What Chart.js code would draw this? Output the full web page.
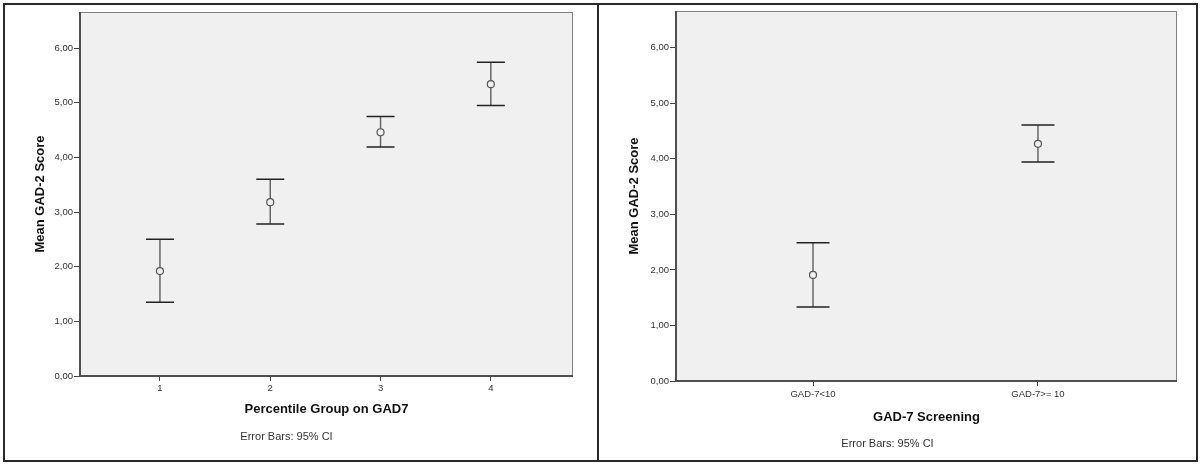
<!DOCTYPE html>
<html lang="en">
<head>
    <meta charset="UTF-8">
    <title>Mean GAD-2 Score, error bars</title>
    <script src="https://cdn.jsdelivr.net/npm/chart.js"></script>
    <style>
        html, body { margin: 0; padding: 0; background: #fff; }
        #page { position: relative; width: 1200px; height: 464px; overflow: hidden; }
        #frame { position: absolute; left: 3px; top: 3px; width: 1195px; height: 459px;
                 border: 2px solid #2a2a2a; box-sizing: border-box; }
        #divider { position: absolute; left: 597px; top: 3px; width: 2px; height: 459px; background: #2a2a2a; }
        canvas { position: absolute; top: 0; }
        #leftChart { left: 0; }
        #rightChart { left: 598px; }
    </style>
</head>
<body>
<div id="page">
    <canvas id="leftChart" width="598" height="464"></canvas>
    <canvas id="rightChart" width="602" height="464"></canvas>
    <div id="frame"></div>
    <div id="divider"></div>
</div>

<script>
    // left panel: percentile groups
    const leftGroups = [1, 2, 3, 4];
    const leftLabels = ['1', '2', '3', '4'];
    const leftMeans = [1.92, 3.18, 4.46, 5.34];
    const leftLower = [1.35, 2.78, 4.19, 4.95];
    const leftUpper = [2.50, 3.60, 4.75, 5.74];

    // right panel: screening cut-off
    const rightGroups = [1, 2];
    const rightLabels = ['GAD-7<10', 'GAD-7>= 10'];
    const rightMeans = [1.91, 4.27];
    const rightLower = [1.33, 3.94];
    const rightUpper = [2.49, 4.61];

    const yTicks = [0, 1, 2, 3, 4, 5, 6];

    const FONT = '"Liberation Sans", Arial, sans-serif';

    // plot background + frame
    const plotFrame = {
        id: 'plotFrame',
        beforeDraw(chart) {
            const {ctx, chartArea: a} = chart;
            ctx.save();
            ctx.fillStyle = '#f0f0f0';
            ctx.fillRect(a.left, a.top, a.right - a.left, a.bottom - a.top);
            ctx.restore();
        },
        afterDraw(chart) {
            const {ctx, chartArea: a} = chart;
            ctx.save();
            ctx.strokeStyle = '#808080';
            ctx.lineWidth = 1;
            ctx.strokeRect(a.left + 0.5, a.top + 0.5, a.right - a.left - 1, a.bottom - a.top - 1);
            ctx.strokeStyle = '#505050';
            ctx.lineWidth = 2;
            ctx.beginPath();
            ctx.moveTo(a.left, a.top);
            ctx.lineTo(a.left, a.bottom);
            ctx.lineTo(a.right, a.bottom);
            ctx.stroke();
            ctx.restore();
        }
    };

    // 95% CI whiskers, read from the dataset's lower/upper arrays
    const errorBars = {
        id: 'errorBars',
        beforeDatasetsDraw(chart) {
            const {ctx, scales: {x, y}} = chart;
            const ds = chart.data.datasets[0];
            const cap = chart.options.plugins.errorBars.cap;
            ctx.save();
            ds.data.forEach((p) => {
                const px = x.getPixelForValue(p.x);
                const top = y.getPixelForValue(p.hi);
                const bot = y.getPixelForValue(p.lo);
                ctx.strokeStyle = '#666';
                ctx.lineWidth = 1.5;
                ctx.beginPath();
                ctx.moveTo(px, top);
                ctx.lineTo(px, bot);
                ctx.stroke();
                ctx.strokeStyle = '#222';
                ctx.beginPath();
                ctx.moveTo(px - cap, top);
                ctx.lineTo(px + cap, top);
                ctx.moveTo(px - cap, bot);
                ctx.lineTo(px + cap, bot);
                ctx.stroke();
            });
            ctx.restore();
        }
    };

    function fmt(v) {
        return v.toFixed(2).replace('.', ',');
    }

    function makeChart(id, opts) {
        const points = opts.groups.map((g, i) => ({
            x: g, y: opts.means[i], lo: opts.lower[i], hi: opts.upper[i]
        }));

        return new Chart(document.getElementById(id), {
            type: 'scatter',
            data: {
                datasets: [{
                    data: points,
                    pointStyle: 'circle',
                    pointRadius: 3.5,
                    pointHoverRadius: 3.5,
                    pointBackgroundColor: '#f0f0f0',
                    pointBorderColor: '#555',
                    pointBorderWidth: 1.2
                }]
            },
            options: {
                responsive: false,
                animation: false,
                events: [],
                layout: { padding: { top: opts.top, right: opts.right, left: 0, bottom: 0 } },
                plugins: {
                    legend: { display: false },
                    tooltip: { enabled: false },
                    subtitle: {
                        display: true,
                        position: 'bottom',
                        text: 'Error Bars: 95% CI',
                        color: '#333',
                        font: { family: FONT, size: 11, weight: 'normal' },
                        padding: { top: 0, bottom: opts.subPad }
                    },
                    errorBars: { cap: opts.cap }
                },
                scales: {
                    x: {
                        type: 'linear',
                        min: opts.xMin,
                        max: opts.xMax,
                        afterBuildTicks: (s) => { s.ticks = opts.groups.map(v => ({ value: v })); },
                        afterFit: (s) => { s.height = opts.xHeight; },
                        border: { display: false },
                        grid: { drawOnChartArea: false, tickLength: 5, color: '#444', lineWidth: 1 },
                        ticks: {
                            color: '#333',
                            padding: opts.xTickPad,
                            maxRotation: 0,
                            font: { family: FONT, size: 9.5 },
                            callback: (v) => opts.labels[opts.groups.indexOf(v)]
                        },
                        title: {
                            display: true,
                            text: opts.xTitle,
                            color: '#111',
                            font: { family: FONT, size: 13, weight: 'bold' },
                            padding: { top: 0, bottom: opts.xTitlePad }
                        }
                    },
                    y: {
                        min: 0,
                        max: 6.66,
                        afterBuildTicks: (s) => { s.ticks = yTicks.map(v => ({ value: v })); },
                        afterFit: (s) => { s.width = opts.yWidth; },
                        border: { display: false },
                        grid: { drawOnChartArea: false, tickLength: 6, color: '#444', lineWidth: 1 },
                        ticks: {
                            color: '#333',
                            padding: 1,
                            font: { family: FONT, size: 9.5 },
                            callback: (v) => fmt(v)
                        },
                        title: {
                            display: true,
                            text: 'Mean GAD-2 Score',
                            color: '#111',
                            font: { family: FONT, size: 13, weight: 'bold' },
                            padding: { top: opts.yTitlePad, bottom: 0 }
                        }
                    }
                }
            },
            plugins: [plotFrame, errorBars]
        });
    }

    makeChart('leftChart', {
        groups: leftGroups, labels: leftLabels,
        means: leftMeans, lower: leftLower, upper: leftUpper,
        xTitle: 'Percentile Group on GAD7',
        xMin: 0.275, xMax: 4.745,
        top: 12, right: 25, yWidth: 80,
        subPad: 20.7, xHeight: 54.1, xTitlePad: 13.3, xTickPad: 1.5,
        yTitlePad: 32.4, cap: 14
    });

    makeChart('rightChart', {
        groups: rightGroups, labels: rightLabels,
        means: rightMeans, lower: rightLower, upper: rightUpper,
        xTitle: 'GAD-7 Screening',
        xMin: 0.391, xMax: 2.618,
        top: 11, right: 23, yWidth: 78,
        subPad: 13.4, xHeight: 56.4, xTitlePad: 12.6, xTickPad: 3,
        yTitlePad: 28.7, cap: 16.5
    });
</script>
</body>
</html>
